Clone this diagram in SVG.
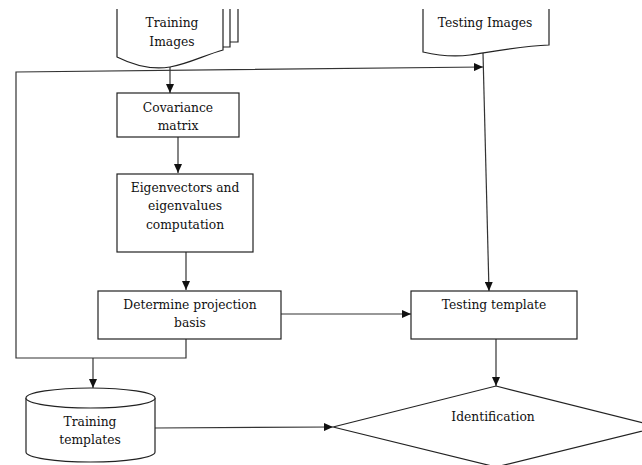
<svg xmlns="http://www.w3.org/2000/svg" width="642" height="465" viewBox="0 0 642 465">
<style>
.s{fill:#fff;stroke:#222;stroke-width:1.2}
.o{fill:none;stroke:#222;stroke-width:1.2}
.c{fill:none;stroke:#333;stroke-width:1.2}
text{font-family:"DejaVu Serif","Liberation Serif",serif;font-size:12.3px;fill:#111;text-anchor:middle}
</style>
<defs>
<marker id="a" markerWidth="9" markerHeight="8" refX="9" refY="4" orient="auto" markerUnits="userSpaceOnUse">
<path d="M0,0 L9,4 L0,8 Z" fill="#111"/>
</marker>
</defs>
<rect width="642" height="465" fill="#fff"/>
<g id="connectors">
<path class="c" d="M186,339 V358 H16 V72 L483,67" marker-end="url(#a)"/>
<path class="c" d="M93,358 V388" marker-end="url(#a)"/>
<path class="c" d="M170,67 V93" marker-end="url(#a)"/>
<path class="c" d="M178,137 V173" marker-end="url(#a)"/>
<path class="c" d="M186,252 V290" marker-end="url(#a)"/>
<path class="c" d="M281,314 H411" marker-end="url(#a)"/>
<path class="c" d="M483,53 L489,291" marker-end="url(#a)"/>
<path class="c" d="M496,339 V386" marker-end="url(#a)"/>
<path class="c" d="M155,428 L333,427" marker-end="url(#a)"/>
</g>
<g id="training-images">
<path class="o" d="M230,42 H238 V9"/>
<path class="o" d="M223,47 H230 V9"/>
<path class="o" d="M117,9 V57 C135,66 152,70 170,67 S205,55 223,50 V9"/>
<text x="172" y="27">Training</text>
<text x="172" y="46">Images</text>
</g>
<g id="testing-images">
<path class="o" d="M423,9 V52 C440,56 455,57 470,55 S520,46 549,45 V9"/>
<text x="485" y="27">Testing Images</text>
</g>
<g id="covariance">
<rect class="s" x="117" y="93" width="122" height="44"/>
<text x="178" y="112">Covariance</text>
<text x="178" y="130">matrix</text>
</g>
<g id="eigen">
<rect class="s" x="117" y="174" width="136" height="78"/>
<text x="185" y="192">Eigenvectors and</text>
<text x="185" y="210">eigenvalues</text>
<text x="185" y="229">computation</text>
</g>
<g id="determine">
<rect class="s" x="98" y="291" width="183" height="48"/>
<text x="190" y="309">Determine projection</text>
<text x="190" y="327">basis</text>
</g>
<g id="testing-template">
<rect class="s" x="411" y="291" width="166" height="48"/>
<text x="494" y="309">Testing template</text>
</g>
<g id="training-templates">
<path class="s" d="M26,398 V452 A64.5,10 0 0 0 155,452 V398"/>
<ellipse class="s" cx="90.5" cy="398" rx="64.5" ry="10"/>
<text x="90" y="426">Training</text>
<text x="90" y="444">templates</text>
</g>
<g id="identification">
<path class="s" d="M496,386 L659,427 L496,467 L333,427 Z"/>
<text x="493" y="421">Identification</text>
</g>
</svg>
